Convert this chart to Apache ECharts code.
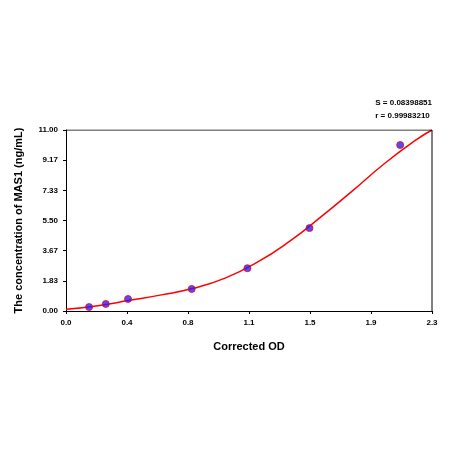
<!DOCTYPE html><html><head><meta charset="utf-8"><script src="https://cdn.jsdelivr.net/npm/echarts@6/dist/echarts.min.js"></script></head><body style="margin:0"><div id="c" style="width:450px;height:450px"></div><script>
const pointsX=[0.145,0.25,0.39,0.79,1.14,1.53,2.10];
const pointsY=[0.24,0.43,0.73,1.34,2.6,5.04,10.09];
const curveX=[0,0.2,0.4,0.6,0.8,1.0,1.2,1.4,1.6,1.8,2.0,2.2,2.3];
const curveY=[0.1,0.32,0.65,0.98,1.38,2.0,2.95,4.2,5.7,7.3,8.95,10.4,11.0];
const xLabels=['0.0','0.4','0.8','1.1','1.5','1.9','2.3'];
const yLabels=['0.00','1.83','3.67','5.50','7.33','9.17','11.00'];
const lab={fontSize:8,fontWeight:'bold',color:'#000',fontFamily:'Liberation Sans'};
const c=echarts.init(document.getElementById('c'));
c.setOption({animation:false,
grid:{left:66,right:18,top:130,bottom:139},
graphic:[{type:'text',right:18,top:96,style:{text:'S = 0.08398851\nr = 0.99983210',align:'right',fontSize:8,fontWeight:'bold',lineHeight:13,fontFamily:'Liberation Sans',fill:'#000'}}],
xAxis:{type:'value',min:0,max:2.3,interval:2.3/6,name:'Corrected OD',nameLocation:'middle',nameGap:30,
nameTextStyle:{fontSize:11,fontWeight:'bold',fontFamily:'Liberation Sans',color:'#000'},
axisLine:{show:true,lineStyle:{color:'#000'}},axisTick:{show:true,length:3,lineStyle:{color:'#000'}},splitLine:{show:false},
axisLabel:Object.assign({formatter:(v,i)=>xLabels[i]},lab)},
yAxis:{type:'value',min:0,max:11,interval:11/6,name:'The concentration of MAS1 (ng/mL)',nameLocation:'middle',nameGap:42,
nameTextStyle:{fontSize:11,fontWeight:'bold',fontFamily:'Liberation Sans',color:'#000'},
axisLine:{show:true,lineStyle:{color:'#000'}},axisTick:{show:true,length:3,lineStyle:{color:'#000'}},splitLine:{show:false},
axisLabel:Object.assign({formatter:(v,i)=>yLabels[i]},lab)},
series:[
{type:'line',smooth:true,symbol:'none',data:curveX.map((x,i)=>[x,curveY[i]]),lineStyle:{color:'#ff0000',width:1.5},z:2},
{type:'scatter',symbolSize:7,data:pointsX.map((x,i)=>[x,pointsY[i]]),itemStyle:{color:'#2020ff',borderColor:'#ff0000',borderWidth:1},z:3},
{type:'line',symbol:'none',data:[[0,11],[2.3,11],[2.3,0]],lineStyle:{color:'#000',width:1},silent:true}
]});
</script></body></html>
